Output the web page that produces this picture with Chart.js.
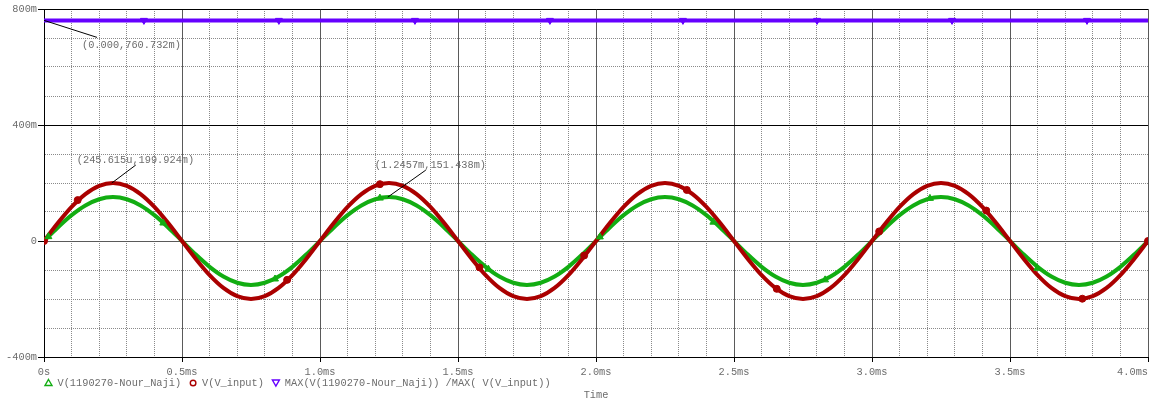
<!DOCTYPE html>
<html>
<head>
<meta charset="utf-8">
<script src="https://cdn.jsdelivr.net/npm/chart.js@4.4.0/dist/chart.umd.min.js"></script>
<style>
  html, body { margin: 0; padding: 0; background: #fff; overflow: hidden; }
  canvas { display: block; }
</style>
</head>
<body>
<canvas id="probe" width="1150" height="401"></canvas>
<script>
// time axis in ms, voltages in mV
const timeMs = [
  0, 0.05, 0.1, 0.15, 0.2, 0.25, 0.3, 0.35, 0.4, 0.45, 0.5, 0.55, 0.6, 0.65, 0.7, 0.75, 0.8, 0.85, 0.9, 0.95,
  1, 1.05, 1.1, 1.15, 1.2, 1.25, 1.3, 1.35, 1.4, 1.45, 1.5, 1.55, 1.6, 1.65, 1.7, 1.75, 1.8, 1.85, 1.9, 1.95,
  2, 2.05, 2.1, 2.15, 2.2, 2.25, 2.3, 2.35, 2.4, 2.45, 2.5, 2.55, 2.6, 2.65, 2.7, 2.75, 2.8, 2.85, 2.9, 2.95,
  3, 3.05, 3.1, 3.15, 3.2, 3.25, 3.3, 3.35, 3.4, 3.45, 3.5, 3.55, 3.6, 3.65, 3.7, 3.75, 3.8, 3.85, 3.9, 3.95,
  4
];
const vInput = [
  0, 61.8, 117.6, 161.8, 190.2, 199.9, 190.2, 161.8, 117.6, 61.8, 0, -61.8, -117.6, -161.8, -190.2, -199.9, -190.2, -161.8, -117.6, -61.8,
  0, 61.8, 117.6, 161.8, 190.2, 199.9, 190.2, 161.8, 117.6, 61.8, 0, -61.8, -117.6, -161.8, -190.2, -199.9, -190.2, -161.8, -117.6, -61.8,
  0, 61.8, 117.6, 161.8, 190.2, 199.9, 190.2, 161.8, 117.6, 61.8, 0, -61.8, -117.6, -161.8, -190.2, -199.9, -190.2, -161.8, -117.6, -61.8,
  0, 61.8, 117.6, 161.8, 190.2, 199.9, 190.2, 161.8, 117.6, 61.8, 0, -61.8, -117.6, -161.8, -190.2, -199.9, -190.2, -161.8, -117.6, -61.8,
  0
];
const vOut = [
  0, 46.8, 89.0, 122.5, 144.0, 151.4, 144.0, 122.5, 89.0, 46.8, 0, -46.8, -89.0, -122.5, -144.0, -151.4, -144.0, -122.5, -89.0, -46.8,
  0, 46.8, 89.0, 122.5, 144.0, 151.4, 144.0, 122.5, 89.0, 46.8, 0, -46.8, -89.0, -122.5, -144.0, -151.4, -144.0, -122.5, -89.0, -46.8,
  0, 46.8, 89.0, 122.5, 144.0, 151.4, 144.0, 122.5, 89.0, 46.8, 0, -46.8, -89.0, -122.5, -144.0, -151.4, -144.0, -122.5, -89.0, -46.8,
  0, 46.8, 89.0, 122.5, 144.0, 151.4, 144.0, 122.5, 89.0, 46.8, 0, -46.8, -89.0, -122.5, -144.0, -151.4, -144.0, -122.5, -89.0, -46.8,
  0
];
const ratioT = [0, 4];
const ratioV = [760.732, 760.732];

// trace markers as placed along each curve
const outMarkT = [0.016, 0.432, 0.837, 1.217, 1.61, 2.014, 2.425, 2.83, 3.21, 3.599];
const outMarkV = [15, 62, -131, 148, -97, 14, 65, -134, 147, -94];
const inMarkT = [0, 0.122, 0.881, 1.217, 1.578, 1.957, 2.329, 2.655, 3.026, 3.414, 3.762, 4];
const inMarkV = [0, 141, -134, 196, -91, -50, 176, -165, 33, 105, -199, 0];
const ratioMarkT = [0.362, 0.851, 1.344, 1.833, 2.315, 2.801, 3.29, 3.779];
const ratioMarkV = [760.732, 760.732, 760.732, 760.732, 760.732, 760.732, 760.732, 760.732];

// cursor readouts
const cursorT = [0, 0.245615, 1.2457];
const cursorV = [760.732, 199.924, 151.438];
const cursorText = ['(0.000,760.732m)', '(245.615u,199.924m)', '(1.2457m,151.438m)'];

const seriesNames = ['V(1190270-Nour_Naji)', 'V(V_input)', 'MAX(V(1190270-Nour_Naji)) /MAX( V(V_input))'];
const xTitle = 'Time';

const GREEN = '#12ad12', RED = '#aa0000', BLUE = '#6600ff';
const MONO = '10.3px "Liberation Mono", "DejaVu Sans Mono", monospace';
const TXT = '#6c6c6c';

function pts(xs, ys) { return xs.map((x, i) => ({ x: x, y: ys[i] })); }
function near(v, step) { return Math.abs(v / step - Math.round(v / step)) < 1e-6; }

// bottom legend + axis title, PSpice style
const probeLegend = {
  id: 'probeLegend',
  afterDraw(chart) {
    const ctx = chart.ctx;
    ctx.save();
    ctx.font = MONO;
    ctx.textBaseline = 'middle';
    ctx.textAlign = 'left';
    let pos = 44;
    const y = 383;
    chart.data.datasets.filter(d => d.legendSymbol).forEach(d => {
      const cx = pos + 4.5;
      ctx.strokeStyle = d.borderColor;
      ctx.lineWidth = 1.4;
      ctx.beginPath();
      if (d.legendSymbol === 'up') {
        ctx.moveTo(cx, y - 3.5); ctx.lineTo(cx + 3.5, y + 2.5); ctx.lineTo(cx - 3.5, y + 2.5); ctx.closePath();
      } else if (d.legendSymbol === 'down') {
        ctx.moveTo(cx - 3.5, y - 3); ctx.lineTo(cx + 3.5, y - 3); ctx.lineTo(cx, y + 3); ctx.closePath();
      } else {
        ctx.arc(cx, y, 2.8, 0, Math.PI * 2);
      }
      ctx.stroke();
      ctx.fillStyle = TXT;
      ctx.fillText(d.label, pos + 13.5, y);
      pos += 13.5 + ctx.measureText(d.label).width + 7.5;
    });
    const xs = chart.scales.x;
    ctx.textAlign = 'center';
    ctx.fillText(xTitle, (xs.left + xs.right) / 2, 395);
    ctx.restore();
  }
};

// cursor labels with leader lines
const cursorLabels = {
  id: 'cursorLabels',
  afterDatasetsDraw(chart) {
    const ctx = chart.ctx, xs = chart.scales.x, ys = chart.scales.y;
    const lead = [[53, 17], [24, -18], [38, -27]];
    const text = [[38, 25], [-35, -23], [-13, -32]];
    ctx.save();
    ctx.font = MONO;
    ctx.textBaseline = 'middle';
    ctx.textAlign = 'left';
    cursorT.forEach((t, i) => {
      const px = xs.getPixelForValue(t), py = ys.getPixelForValue(cursorV[i]);
      ctx.strokeStyle = '#000';
      ctx.lineWidth = 1;
      ctx.beginPath();
      ctx.moveTo(px, py);
      ctx.lineTo(px + lead[i][0], py + lead[i][1]);
      ctx.stroke();
      ctx.fillStyle = TXT;
      ctx.fillText(cursorText[i], px + text[i][0], py + text[i][1]);
    });
    ctx.restore();
  }
};

const ctx = document.getElementById('probe').getContext('2d');
const probeChart = new Chart(ctx, {
  type: 'line',
  data: {
    datasets: [
      { data: pts(outMarkT, outMarkV), showLine: false, pointStyle: 'triangle', pointRadius: 4,
        backgroundColor: GREEN, borderColor: GREEN, borderWidth: 1, order: 0 },
      { data: pts(inMarkT, inMarkV), showLine: false, pointStyle: 'circle', pointRadius: 3.5,
        backgroundColor: RED, borderColor: RED, borderWidth: 1, order: 0 },
      { data: pts(ratioMarkT, ratioMarkV), showLine: false, pointStyle: 'triangle', pointRotation: 180, pointRadius: 4,
        backgroundColor: BLUE, borderColor: BLUE, borderWidth: 1, order: 0 },
      { label: seriesNames[0], legendSymbol: 'up', data: pts(timeMs, vOut), borderColor: GREEN,
        borderWidth: 4, pointRadius: 0, cubicInterpolationMode: 'monotone', order: 2 },
      { label: seriesNames[1], legendSymbol: 'circle', data: pts(timeMs, vInput), borderColor: RED,
        borderWidth: 4, pointRadius: 0, cubicInterpolationMode: 'monotone', order: 1 },
      { label: seriesNames[2], legendSymbol: 'down', data: pts(ratioT, ratioV), borderColor: BLUE,
        borderWidth: 4, pointRadius: 0, tension: 0, order: 3 }
    ]
  },
  options: {
    responsive: false,
    animation: false,
    events: [],
    layout: { autoPadding: false, padding: { top: 9, right: 2, left: 0, bottom: 0 } },
    scales: {
      x: {
        type: 'linear',
        min: 0,
        max: 4,
        afterFit: s => { s.height = 44; s.paddingLeft = 0; s.paddingRight = 0; },
        border: { color: '#000', width: 1, dash: c => near(c.tick.value, 0.5) ? [] : [1, 1] },
        grid: {
          color: c => near(c.tick.value, 0.5) ? '#5a5a5a' : '#8a8a8a',
          lineWidth: 1,
          tickLength: 5,
          tickColor: c => near(c.tick.value, 0.5) ? '#000' : 'rgba(0,0,0,0)'
        },
        ticks: {
          stepSize: 0.1,
          autoSkip: false,
          maxRotation: 0,
          minRotation: 0,
          padding: 4,
          color: TXT,
          font: { family: '"Liberation Mono", "DejaVu Sans Mono", monospace', size: 10.3 },
          callback: v => {
            if (!near(v, 0.5)) return '';
            if (Math.abs(v) < 1e-9) return '0s';
            const s = v.toFixed(1) + 'ms';
            return Math.abs(v - 4) < 1e-9 ? s + '     ' : s;
          }
        }
      },
      y: {
        type: 'linear',
        min: -400,
        max: 800,
        afterFit: s => { s.width = 44; s.paddingTop = 0; s.paddingBottom = 0; },
        border: { color: '#000', width: 1, dash: c => near(c.tick.value, 400) ? [] : [1, 1] },
        grid: {
          color: c => {
            const v = c.tick.value;
            if (Math.abs(v) < 1e-9) return '#5a5a5a';
            return near(v, 400) ? '#000' : '#8a8a8a';
          },
          lineWidth: 1,
          tickLength: 6,
          tickColor: c => near(c.tick.value, 400) ? '#000' : 'rgba(0,0,0,0)'
        },
        ticks: {
          stepSize: 100,
          autoSkip: false,
          padding: 1,
          color: TXT,
          font: { family: '"Liberation Mono", "DejaVu Sans Mono", monospace', size: 10.3 },
          callback: v => {
            if (!near(v, 400)) return '';
            return Math.abs(v) < 1e-9 ? '0' : v + 'm';
          }
        }
      }
    },
    plugins: {
      legend: { display: false },
      tooltip: { enabled: false },
      title: { display: false }
    }
  },
  plugins: [cursorLabels, probeLegend]
});
</script>
</body>
</html>
